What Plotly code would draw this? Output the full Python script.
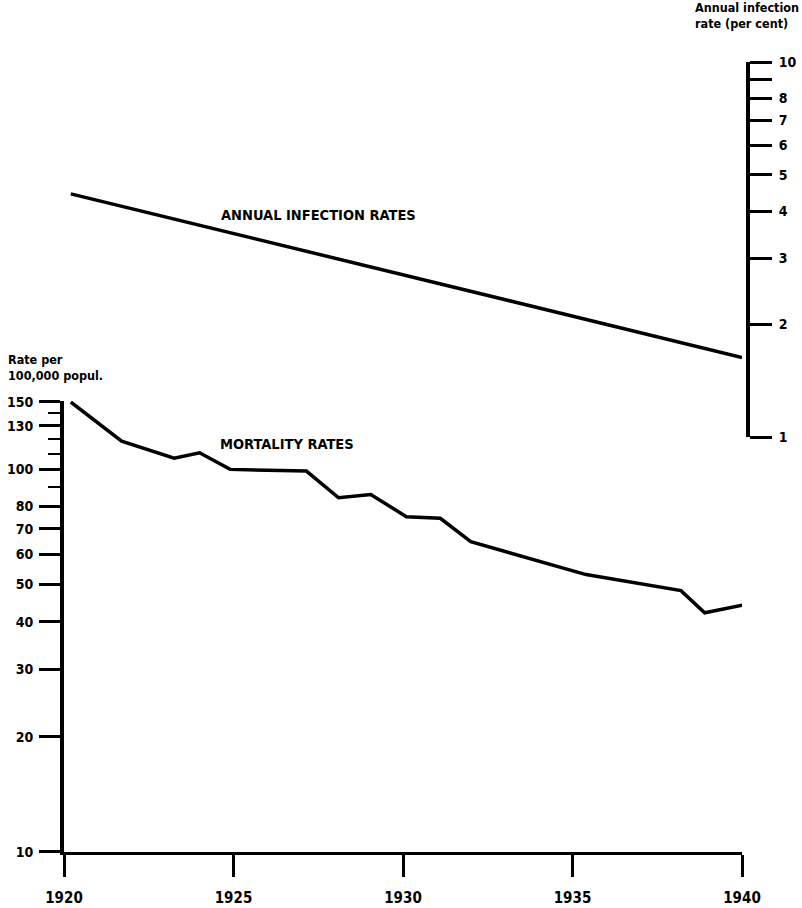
import math
import plotly.graph_objects as go

# ---- data ----
mort_years = [1920.2, 1921.7, 1923.25, 1924.0, 1924.9, 1927.15, 1928.1, 1929.05,
              1930.1, 1931.1, 1932.0, 1935.4, 1938.2, 1938.9, 1940.1]
mort_rates = [150, 118.5, 107, 110.5, 100, 99, 84.3, 86, 75.2, 74.5, 64.7, 53.1, 48.2, 42.2, 44.3]

inf_years = [1920.2, 1940.0]
inf_rates = [4.45, 1.63]

x_ticks = [1920, 1925, 1930, 1935, 1940]
left_ticks = [10, 20, 30, 40, 50, 60, 70, 80, 100, 130, 150]
left_minor = [90, 110, 120, 140]
right_ticks = [1, 2, 3, 4, 5, 6, 7, 8, 9, 10]
right_labels = ["1", "2", "3", "4", "5", "6", "7", "8", "", "10"]

FONT = "DejaVu Sans Condensed, Liberation Sans Narrow, Arial Narrow, Liberation Sans, sans-serif"

fig = go.Figure()
fig.add_trace(go.Scatter(x=mort_years, y=mort_rates, mode="lines",
                         line=dict(color="black", width=3.5), xaxis="x", yaxis="y",
                         showlegend=False, hoverinfo="skip"))
fig.add_trace(go.Scatter(x=inf_years, y=inf_rates, mode="lines",
                         line=dict(color="black", width=3.5), xaxis="x", yaxis="y2",
                         showlegend=False, hoverinfo="skip"))

W, H = 802, 908
L, R, T, B = 64, 54, 62, 56
pw = W - L - R
ph = H - T - B
BASE = H - B          # pixel row of the 10 line
TOP150 = 402          # pixel row of the 150 tick

def px(x):
    return (x - L) / pw

def py(y):
    return (H - B - y) / ph

ytop = 151.0
left_top_px = BASE - (BASE - TOP150) * math.log10(ytop / 10) / math.log10(15)

tickfont = dict(family=FONT, size=14, color="black", weight="bold")

fig.update_layout(
    width=W, height=H,
    margin=dict(l=L, r=R, t=T, b=B, autoexpand=False),
    paper_bgcolor="white", plot_bgcolor="rgba(0,0,0,0)",
    xaxis=dict(range=[1920, 1940], domain=[0, (742 - L) / pw], anchor="y",
               tickvals=x_ticks, ticktext=[str(v) for v in x_ticks],
               ticks="outside", ticklen=22, tickwidth=3, tickcolor="black",
               ticklabelstandoff=8,
               showline=True, linewidth=3, linecolor="black",
               showgrid=False, zeroline=False,
               tickfont=dict(family=FONT, size=15, color="black", weight="bold")),
    yaxis=dict(type="log", range=[1, math.log10(ytop)], domain=[0, py(left_top_px)],
               anchor="x", tickvals=left_ticks, ticktext=[str(v) for v in left_ticks],
               ticks="outside", ticklen=21, tickwidth=2.5, tickcolor="black",
               ticklabelstandoff=3,
               minor=dict(tickvals=left_minor, ticks="outside", ticklen=12,
                          tickwidth=2, tickcolor="black", showgrid=False),
               showline=True, linewidth=4, linecolor="black",
               showgrid=False, zeroline=False, tickfont=tickfont),
    yaxis2=dict(type="log", range=[0, 1], domain=[py(437), 1],
                anchor="free", position=1, side="right",
                tickvals=right_ticks, ticktext=right_labels,
                ticks="outside", ticklen=22, tickwidth=2.5, tickcolor="black",
                ticklabelstandoff=4,
                showline=True, linewidth=4, linecolor="black",
                showgrid=False, zeroline=False, tickfont=tickfont),
    annotations=[
        dict(text="ANNUAL INFECTION RATES", x=px(318), y=py(215), xref="paper", yref="paper",
             xanchor="center", yanchor="middle", showarrow=False,
             font=dict(family=FONT, size=14.5, color="black", weight="bold")),
        dict(text="MORTALITY RATES", x=px(287), y=py(444), xref="paper", yref="paper",
             xanchor="center", yanchor="middle", showarrow=False,
             font=dict(family=FONT, size=14.5, color="black", weight="bold")),
        dict(text="Rate per<br>100,000 popul.", x=px(6), y=py(368), xref="paper", yref="paper",
             xanchor="left", yanchor="middle", align="left", showarrow=False,
             font=dict(family=FONT, size=12.5, color="black", weight="bold")),
        dict(text="Annual infection<br>rate (per cent)", x=px(801), y=py(16), xref="paper",
             yref="paper", xanchor="right", yanchor="middle", align="left", showarrow=False,
             font=dict(family=FONT, size=12.5, color="black", weight="bold")),
    ],
)

fig.write_html("out.html", config={"displayModeBar": False},
               post_script="document.body.style.margin='0px';")
